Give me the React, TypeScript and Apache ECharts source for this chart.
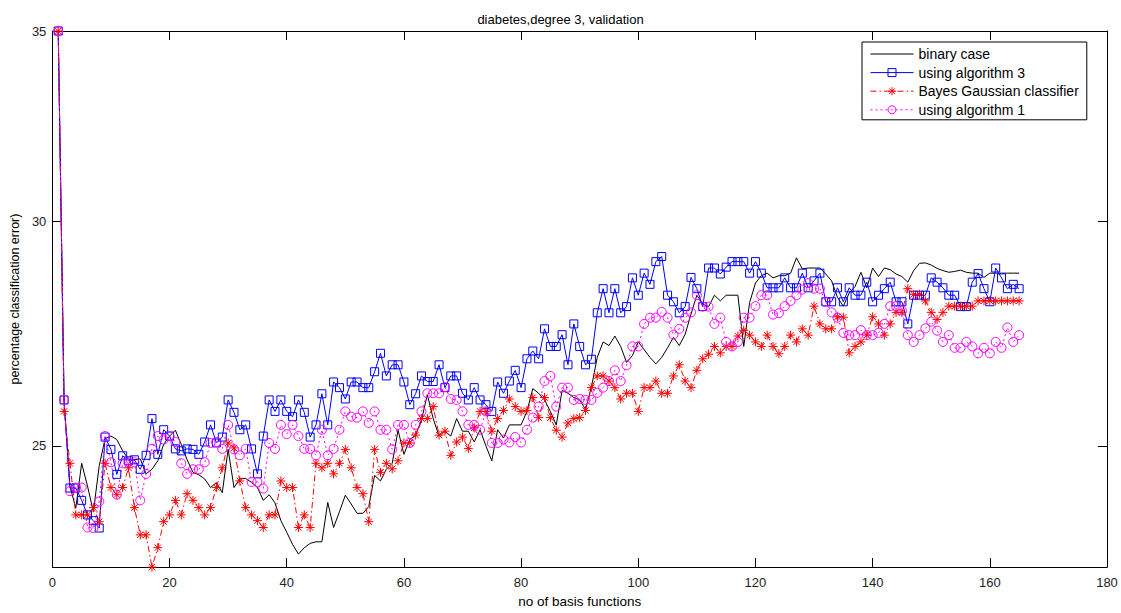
import React, { useEffect, useRef } from "react";
import * as echarts from "echarts";

// number of basis functions (x categories)
const nBasis: number[] = Array.from({ length: 165 }, (_, k) => k + 1);

const binaryCase: number[] = [
  35, 25.9, 24.2, 23.77, 24.65, 24.2, 23.7, 24.6, 25.15, 25.2,
  25.13, 24.9, 24.73, 24.72, 24.74, 24.44, 24.53, 24.7, 25.03, 25.2,
  25.32, 25.03, 24.72, 24.47, 24.42, 24.34, 24.17, 24.27, 24.07, 24.93,
  24.17, 24.34, 24.35, 24.27, 24.17, 23.92, 24.03, 23.87, 23.53, 23.31,
  23.08, 22.9, 23.02, 23.1, 23.13, 23.13, 23.88, 23.4, 23.7, 24.02,
  23.85, 23.67, 23.67, 23.8, 24.41, 24.3, 24.53, 24.65, 25.32, 24.83,
  25.13, 25.22, 25.53, 26.06, 25.56, 25.2, 25.3, 25.2, 25.56, 25.3,
  25.3, 25.08, 25.33, 25.0, 24.7, 25.33, 25.16, 25.43, 25.43, 25.43,
  25.71, 26.19, 26.09, 25.95, 25.71, 25.43, 26.15, 26.09, 26.0, 25.95,
  25.75, 26.22, 26.86, 27.2, 27.12, 27.33, 27.1, 26.75, 26.9, 27.2,
  27.03, 26.86, 26.72, 26.86, 27.07, 27.3, 27.12, 27.37, 27.82, 28.25,
  28.05, 27.99, 28.25, 28.12, 28.25, 28.25, 28.25, 27.1, 28.08, 28.53,
  28.7, 28.76, 28.65, 28.7, 28.7, 28.76, 29.12, 28.86, 28.88, 28.88,
  28.88, 28.74, 28.58, 28.2, 28.0, 28.3, 28.45, 28.78, 28.42, 28.88,
  28.68, 28.88, 28.84, 28.74, 28.68, 28.55, 28.82, 28.99, 29.0, 28.95,
  28.87, 28.82, 28.78, 28.8, 28.83, 28.78, 28.76, 28.76, 28.66, 28.76,
  28.76, 28.76, 28.76, 28.76, 28.76,
];

const algorithm3: number[] = [
  35, 25.95, 24.16, 24.16, 23.92, 23.64, 23.53, 23.39, 25.18, 24.93,
  24.43, 24.8, 24.7, 24.72, 24.53, 24.81, 25.56, 24.83, 25.33, 25.2,
  24.94, 24.9, 24.94, 24.93, 24.83, 25.08, 25.43, 25.06, 25.18, 25.95,
  25.69, 25.33, 25.43, 24.94, 24.44, 25.2, 25.95, 25.71, 25.95, 25.71,
  25.6, 25.95, 25.69, 25.18, 25.43, 26.08, 25.43, 26.33, 26.21, 25.97,
  26.33, 26.33, 26.21, 26.21, 26.55, 26.95, 26.46, 26.7, 26.7, 26.33,
  25.85, 26.08, 26.46, 26.34, 26.34, 26.7, 26.21, 26.46, 26.46, 26.09,
  25.95, 26.21, 25.95, 25.85, 25.71, 26.33, 26.09, 26.35, 26.58, 26.21,
  26.83, 27.0, 26.83, 27.49, 27.1, 27.1, 27.36, 26.7, 27.6, 27.1,
  26.7, 26.82, 27.85, 28.4, 27.85, 28.4, 27.85, 27.99, 28.65, 28.25,
  28.76, 28.5, 29.03, 29.15, 28.25, 28.1, 27.85, 27.99, 28.66, 28.4,
  27.99, 28.88, 28.88, 28.74, 28.9, 29.03, 29.03, 29.03, 28.76, 29.03,
  28.76, 28.42, 28.42, 28.42, 28.65, 28.42, 28.42, 28.76, 28.42, 28.58,
  28.76, 28.1, 28.1, 28.42, 28.1, 28.42, 28.25, 28.25, 28.55, 28.1,
  28.25, 28.4, 28.55, 28.1, 28.1, 27.6, 28.25, 28.25, 28.25, 28.65,
  28.55, 28.42, 28.25, 28.25, 27.99, 27.99, 28.55, 28.75, 28.4, 28.1,
  28.88, 28.65, 28.4, 28.5, 28.4,
];

const bayesGaussian: number[] = [
  35, 25.71, 24.65, 23.64, 23.64, 23.64, 23.78, 23.51, 24.65, 24.17,
  24.03, 24.17, 24.56, 23.78, 23.26, 23.26, 22.66, 23.02, 23.51, 23.64,
  23.92, 23.64, 24.05, 23.92, 23.78, 23.64, 23.78, 24.17, 24.56, 25.06,
  24.96, 24.3, 23.78, 23.64, 23.53, 23.4, 23.64, 23.64, 24.3, 24.17,
  24.17, 23.4, 23.64, 23.4, 24.65, 24.56, 24.65, 24.44, 24.65, 24.93,
  24.56, 24.17, 24.05, 23.51, 24.93, 24.47, 24.65, 24.54, 24.7, 25.06,
  25.06, 25.22, 25.56, 25.56, 25.81, 25.22, 25.3, 24.81, 25.08, 25.18,
  24.95, 25.37, 25.71, 25.71, 25.3, 25.56, 25.73, 25.97, 25.81, 25.71,
  25.73, 26.0, 25.58, 26.0, 25.58, 25.32, 25.18, 25.47, 25.56, 25.58,
  25.73, 26.21, 26.46, 26.46, 26.35, 26.21, 25.97, 26.09, 26.09, 25.71,
  26.21, 26.21, 26.35, 26.09, 26.09, 26.46, 26.7, 26.35, 26.21, 26.58,
  26.83, 26.93, 27.1, 26.96, 27.1, 27.1, 27.33, 27.46, 27.35, 27.2,
  27.1, 27.35, 27.1, 26.94, 27.1, 27.35, 27.2, 27.49, 27.35, 28.0,
  27.6, 27.49, 27.49, 27.76, 27.75, 26.96, 27.1, 27.2, 27.35, 27.76,
  27.6, 27.35, 27.6, 27.86, 27.86, 28.4, 28.27, 28.27, 28.12, 27.86,
  27.7, 27.86, 28.0, 28.0, 28.0, 28.0, 28.0, 28.12, 28.12, 28.12,
  28.12, 28.12, 28.12, 28.12, 28.12,
];

const algorithm1: number[] = [
  35, 25.95, 24.1, 24.17, 24.17, 23.4, 23.39, 23.9, 25.2, 24.67,
  24.03, 24.65, 24.67, 24.67, 23.92, 24.44, 24.94, 25.2, 25.13, 25.2,
  25.08, 24.65, 24.44, 24.53, 24.53, 24.67, 25.06, 25.08, 24.94, 25.43,
  24.93, 24.81, 24.94, 24.28, 24.28, 24.15, 25.06, 24.94, 25.43, 25.24,
  25.43, 25.2, 24.94, 24.94, 24.81, 25.33, 24.81, 24.94, 25.33, 25.71,
  25.6, 25.58, 25.71, 25.47, 25.71, 25.33, 25.33, 24.93, 25.43, 25.43,
  25.06, 25.43, 25.71, 26.09, 26.09, 26.09, 26.22, 25.97, 25.95, 25.71,
  25.43, 25.43, 25.33, 25.71, 25.06, 25.06, 25.13, 25.07, 25.18, 25.07,
  25.33, 25.58, 25.81, 26.35, 26.46, 25.81, 26.21, 26.21, 25.95, 25.97,
  25.95, 25.95, 26.1, 26.21, 26.35, 26.58, 26.35, 26.69, 27.1, 27.1,
  27.6, 27.74, 27.74, 27.87, 27.74, 27.36, 27.49, 27.74, 27.86, 28.25,
  27.99, 27.99, 27.6, 27.74, 27.2, 27.1, 27.2, 27.74, 27.74, 28.0,
  28.25, 28.25, 27.81, 27.84, 28.0, 28.12, 28.25, 28.38, 28.53, 28.4,
  28.4, 28.1, 27.86, 27.74, 27.4, 27.35, 27.35, 27.46, 27.35, 27.35,
  27.4, 27.6, 28.0, 28.0, 27.9, 27.35, 27.2, 27.35, 27.5, 27.65,
  27.45, 27.2, 27.35, 27.07, 27.07, 27.2, 27.1, 26.95, 27.07, 26.95,
  27.2, 27.07, 27.52, 27.2, 27.35,
];

const yTickValues: number[] = [25, 30, 35];
const seriesNames: string[] = [
  "binary case",
  "using algorithm 3",
  "Bayes Gaussian classifier",
  "using algorithm 1",
];

const FONT = "'Liberation Sans', Arial, sans-serif";
const STAR = "path://M5,0L5,10M0,5L10,5M1.5,1.5L8.5,8.5M1.5,8.5L8.5,1.5";
const THIN_LINE = "path://M0,0L43,0L43,1L0,1Z";

function pairs(vals: number[]): number[][] {
  return nBasis.map((x, k) => [x, vals[k]]);
}

export default function App() {
  const ref = useRef<HTMLDivElement>(null);
  useEffect(() => {
    if (!ref.current) return;
    const chart = echarts.init(ref.current, undefined, { renderer: "svg" });
    const axisLine = { show: true, onZero: false, lineStyle: { color: "#000", width: 1 } };
    const tickStyle = { color: "#000", width: 1 };
    chart.setOption({
      animation: false,
      backgroundColor: "#fff",
      title: {
        text: "diabetes,degree 3, validation",
        left: "center",
        top: 8,
        textStyle: { fontFamily: FONT, fontSize: 13, fontWeight: "normal", color: "#000" },
      },
      grid: { left: 50, right: 14, top: 31, bottom: 35, containLabel: false },
      legend: {
        orient: "vertical",
        left: 862,
        top: 42,
        padding: [5, 8, 3, 8],
        itemWidth: 43,
        itemHeight: 10,
        itemGap: 4.6,
        symbolKeepAspect: true,
        backgroundColor: "#fff",
        borderColor: "#000",
        borderWidth: 1,
        borderRadius: 0,
        lineStyle: { width: 1 },
        itemStyle: { borderWidth: 1 },
        textStyle: { fontFamily: FONT, fontSize: 14, color: "#000", lineHeight: 14, padding: [0, 0, 0, 0] },
        data: [
          { name: seriesNames[0], icon: THIN_LINE },
          seriesNames[1],
          seriesNames[2],
          seriesNames[3],
        ],
      },
      xAxis: [
        {
          type: "value",
          min: 0,
          max: 180,
          interval: 20,
          position: "bottom",
          name: "no of basis functions",
          nameLocation: "middle",
          nameGap: 22,
          nameTextStyle: { fontFamily: FONT, fontSize: 13.5, color: "#000" },
          axisLine,
          axisTick: { show: true, inside: true, length: 9, lineStyle: tickStyle },
          axisLabel: { fontFamily: FONT, fontSize: 13, color: "#222", margin: 9 },
          splitLine: { show: false },
        },
        {
          type: "value",
          min: 0,
          max: 180,
          interval: 20,
          position: "top",
          axisLine,
          axisTick: { show: true, inside: true, length: 9, lineStyle: tickStyle },
          axisLabel: { show: false },
          splitLine: { show: false },
        },
      ],
      yAxis: [
        {
          type: "log",
          logBase: 10,
          min: 22.66,
          max: 35,
          position: "left",
          name: "percentage classification error)",
          nameLocation: "middle",
          nameGap: 30,
          nameTextStyle: { fontFamily: FONT, fontSize: 12.5, color: "#000" },
          axisLine,
          axisTick: { show: true, inside: true, length: 9, lineStyle: tickStyle, customValues: yTickValues },
          axisLabel: { fontFamily: FONT, fontSize: 13, color: "#222", margin: 6, customValues: yTickValues },
          splitLine: { show: false },
          minorTick: { show: false },
        },
        {
          type: "log",
          logBase: 10,
          min: 22.66,
          max: 35,
          position: "right",
          axisLine,
          axisTick: { show: true, inside: true, length: 9, lineStyle: tickStyle, customValues: yTickValues },
          axisLabel: { show: false, customValues: yTickValues },
          splitLine: { show: false },
        },
      ],
      series: [
        {
          name: seriesNames[0],
          type: "line",
          data: pairs(binaryCase),
          showSymbol: false,
          symbol: "none",
          lineStyle: { color: "#000", width: 1 },
          itemStyle: { color: "#000" },
        },
        {
          name: seriesNames[1],
          type: "line",
          data: pairs(algorithm3),
          symbol: "rect",
          symbolSize: 8,
          showAllSymbol: true,
          lineStyle: { color: "#0000ff", width: 1 },
          itemStyle: { color: "rgba(0,0,0,0)", borderColor: "#0000ff", borderWidth: 1 },
        },
        {
          name: seriesNames[2],
          type: "line",
          data: pairs(bayesGaussian),
          symbol: STAR,
          symbolSize: 9,
          showAllSymbol: true,
          lineStyle: { color: "#ff0000", width: 1, type: [6, 3, 1.5, 3] },
          itemStyle: { color: "#ff0000", borderColor: "#ff0000", borderWidth: 1 },
        },
        {
          name: seriesNames[3],
          type: "line",
          data: pairs(algorithm1),
          symbol: "circle",
          symbolSize: 9,
          showAllSymbol: true,
          lineStyle: { color: "#ff00ff", width: 1, type: [2, 3] },
          itemStyle: { color: "rgba(0,0,0,0)", borderColor: "#ff00ff", borderWidth: 1 },
        },
      ],
    });
    return () => chart.dispose();
  }, []);
  return (
    <div
      ref={ref}
      style={{ position: "fixed", left: 0, top: 0, width: 1121, height: 613, background: "#fff" }}
    />
  );
}
